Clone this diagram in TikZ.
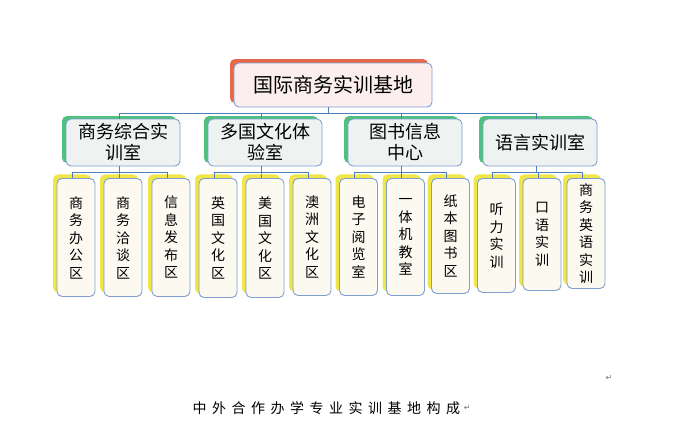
\documentclass[tikz,border=0pt]{standalone}
\usepackage{fontspec}
\setmainfont{Noto Sans CJK SC}
\newfontfamily\markfont{DejaVu Sans}
\usepackage{xcolor}
\usetikzlibrary{shadows}

\definecolor{lineblue}{HTML}{4A7EBB}
\definecolor{boxborder}{HTML}{7F9FCF}
\definecolor{topfill}{HTML}{FCEEEE}
\definecolor{topshadow}{HTML}{E8694A}
\definecolor{midfill}{HTML}{EEF3F1}
\definecolor{midshadow}{HTML}{4EC27C}
\definecolor{leaffill}{HTML}{FBF9F0}
\definecolor{leafshadow}{HTML}{F0E648}

\tikzset{
  box/.style={draw=boxborder, line width=0.9pt, rounded corners=5pt,
    align=center, inner sep=0pt},
  topbox/.style={box, fill=topfill, minimum width=198pt, minimum height=44pt,
    font=\fontsize{20}{24}\selectfont,
    general shadow={fill=topshadow, shadow xshift=-4pt, shadow yshift=4pt}},
  midbox/.style={box, fill=midfill, minimum width=114pt, minimum height=47pt,
    font=\fontsize{18}{21}\selectfont,
    general shadow={fill=midshadow, shadow xshift=-4pt, shadow yshift=3pt}},
  leafbox/.style={box, fill=leaffill, minimum width=38pt, anchor=north,
    font=\fontsize{14}{17.5}\selectfont,
    general shadow={fill=leafshadow, shadow xshift=-4pt, shadow yshift=4pt}},
  conn/.style={draw=lineblue, line width=0.9pt}
}

% spaced caption letters
\def\spaced#1{\ifx#1\relax\else#1\hskip5.5pt\expandafter\spaced\fi}

\begin{document}
\begin{tikzpicture}[x=1pt, y=-1pt]
  \fill[white] (0,0) rectangle (684,424);

  % bus lines
  \coordinate (bus) at (0,113);
  \coordinate (lbus) at (0,172);

  % Top
  \node[topbox] (top) at (333,85) {国际商务实训基地};

  % Second level
  \node[midbox] (b1) at (123,142.5) {商务综合实\\训室};
  \node[midbox] (b2) at (265,142.5) {多国文化体\\验室};
  \node[midbox] (b3) at (405,142.5) {图书信息\\中心};
  \node[midbox] (b4) at (540,142.5) {语言实训室};

  % Leaves
  \foreach \n/\x/\h/\t in {
      l1/76/118/{商\\务\\办\\公\\区},
      l2/123/118/{商\\务\\洽\\谈\\区},
      l3/171/118/{信\\息\\发\\布\\区},
      l4/218/119/{英\\国\\文\\化\\区},
      l5/265/119/{美\\国\\文\\化\\区},
      l6/312/117/{澳\\洲\\文\\化\\区},
      l7/358.5/117/{电\\子\\阅\\览\\室},
      l8/405.5/117/{一\\体\\机\\教\\室},
      l9/450.5/115/{纸\\本\\图\\书\\区},
      l10/496.5/114/{听\\力\\实\\训},
      l11/542/112/{口\\语\\实\\训},
      l12/586/110/{商\\务\\英\\语\\实\\训}} {
    \node[leafbox, minimum height=\h pt] (\n) at (\x,178) {\t};
  }

  % Connectors
  \foreach \b in {b1,b2,b3,b4} {
    \draw[conn] ([xshift=-5pt]top.south) |- ([xshift=-4pt]\b.north |- bus)
      -- ([xshift=-4pt]\b.north);
  }
  \foreach \p/\c in {b1/l1,b1/l2,b1/l3,b2/l4,b2/l5,b2/l6,
                     b3/l7,b3/l8,b3/l9,b4/l10,b4/l11,b4/l12} {
    \draw[conn] ([xshift=-4pt]\p.south) |- ([xshift=-4pt]\c.north |- lbus)
      -- ([xshift=-4pt]\c.north);
  }

  % Caption
  \node[anchor=west, font=\fontsize{14}{16}\selectfont] (cap) at (189,408)
    {\spaced 中外合作办学专业实训基地构成\relax};
  \node[anchor=west, inner sep=0pt, text=black!55, font=\markfont\fontsize{8}{9}\selectfont]
    (mark1) at (cap.east) {↵};
  \node[inner sep=0pt, text=black!55, font=\markfont\fontsize{8}{9}\selectfont]
    (mark2) at (609,378) {↵};
\end{tikzpicture}
\end{document}
